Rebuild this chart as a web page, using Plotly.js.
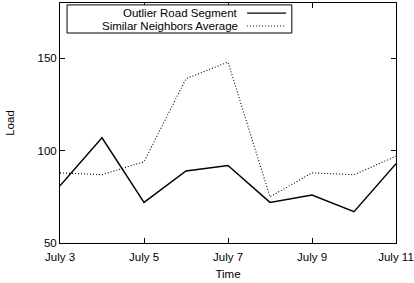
<!DOCTYPE html>
<html>
<head>
<meta charset="utf-8">
<script src="https://cdn.plot.ly/plotly-3.0.1.min.js"></script>
<style>html,body{margin:0;padding:0;background:#fff;}#chart{width:414px;height:283px;}</style>
</head>
<body>
<div id="chart"></div>
<script>
// Data
var days = [3, 4, 5, 6, 7, 8, 9, 10, 11];
var outlierLoad = [81, 107, 72, 89, 92, 72, 76, 67, 93];
var neighborsLoad = [88, 87, 94, 139, 148, 75, 88, 87, 97];
var tickDays = [3, 5, 7, 9, 11];
var tickLabels = ['July 3', 'July 5', 'July 7', 'July 9', 'July 11'];
var yTicks = [50, 100, 150];
var seriesNames = ['Outlier Road Segment', 'Similar Neighbors Average'];

var font = {family: 'Liberation Sans, Arial, Helvetica, sans-serif', size: 11.5, color: '#000'};

var traces = [
  {x: days, y: outlierLoad, mode: 'lines', name: seriesNames[0],
   line: {color: '#000', width: 1.4, dash: 'solid'}, showlegend: false},
  {x: days, y: neighborsLoad, mode: 'lines', name: seriesNames[1],
   line: {color: '#000', width: 1.1, dash: '1px,2px'}, showlegend: false}
];

var layout = {
  width: 414, height: 283,
  margin: {l: 60, r: 18, t: 3, b: 40},
  paper_bgcolor: '#fff', plot_bgcolor: '#fff',
  font: font,
  showlegend: false,
  xaxis: {
    range: [3, 11], tickvals: tickDays, ticktext: tickLabels,
    ticks: 'inside', ticklen: 5, tickcolor: '#000', tickwidth: 1,
    showline: true, linecolor: '#000', linewidth: 1, mirror: 'ticks',
    showgrid: false, zeroline: false, ticklabelstandoff: 3,
    title: {text: 'Time', font: font, standoff: 8},
    tickfont: font
  },
  yaxis: {
    range: [50, 180], tickvals: yTicks,
    ticks: 'inside', ticklen: 5, tickcolor: '#000', tickwidth: 1,
    showline: true, linecolor: '#000', linewidth: 1, mirror: 'ticks',
    showgrid: false, zeroline: false,
    title: {text: 'Load', font: font, standoff: 20},
    tickfont: font
  },
  shapes: [
    {type: 'rect', xref: 'paper', yref: 'paper', x0: 0.021, x1: 0.69, y0: 0.875, y1: 0.992,
     line: {color: '#000', width: 1}, fillcolor: '#fff', layer: 'above'},
    {type: 'line', xref: 'paper', yref: 'paper', x0: 0.557, x1: 0.673, y0: 0.958, y1: 0.958,
     line: {color: '#000', width: 1.4, dash: 'solid'}},
    {type: 'line', xref: 'paper', yref: 'paper', x0: 0.557, x1: 0.673, y0: 0.904, y1: 0.904,
     line: {color: '#000', width: 1.1, dash: '1px,2px'}}
  ],
  annotations: [
    {xref: 'paper', yref: 'paper', x: 0.535, y: 0.958, xanchor: 'right', yanchor: 'middle',
     text: seriesNames[0], showarrow: false, font: font},
    {xref: 'paper', yref: 'paper', x: 0.535, y: 0.904, xanchor: 'right', yanchor: 'middle',
     text: seriesNames[1], showarrow: false, font: font}
  ]
};

Plotly.newPlot('chart', traces, layout, {displayModeBar: false, staticPlot: true});
</script>
</body>
</html>
